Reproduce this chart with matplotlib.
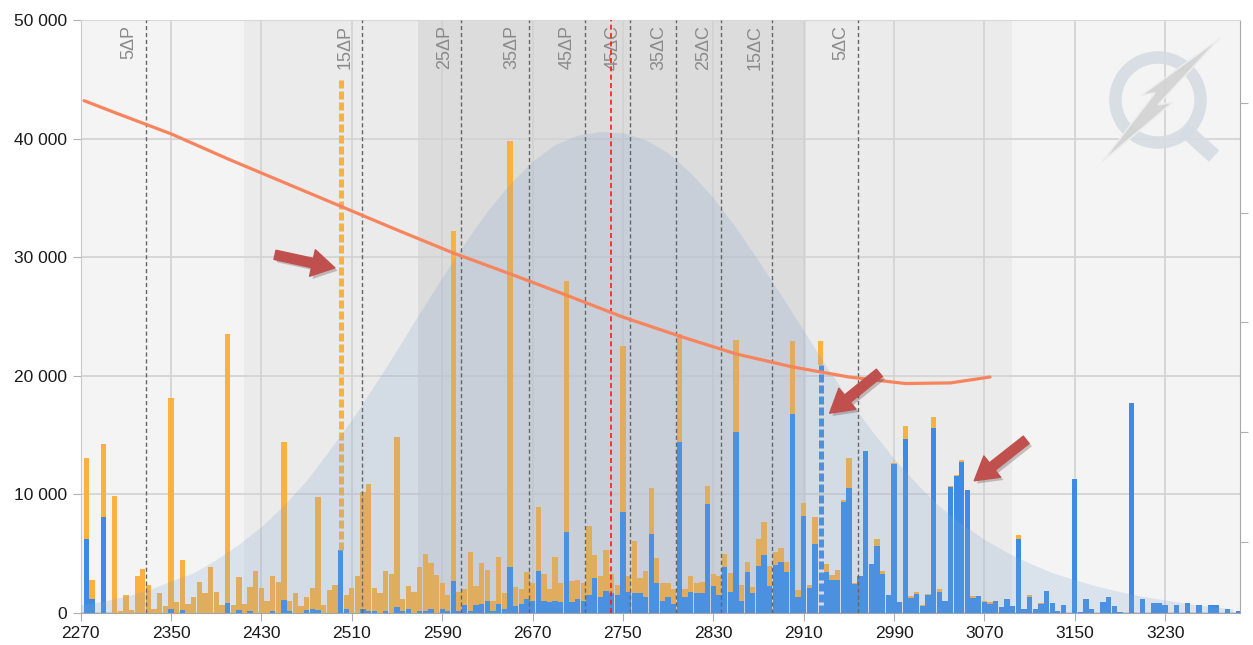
import numpy as np
import matplotlib.pyplot as plt
from matplotlib.patches import Circle, Polygon
from matplotlib.ticker import FuncFormatter
import matplotlib.patheffects as pe

plt.rcParams['font.family'] = ['Liberation Sans', 'DejaVu Sans']

# strikes, one bar every 5 points
strikes = list(range(2275, 3300, 5))

# blue part of each bar (bottom)
calls_oi = [6200, 1200, 0, 8100, 0, 0, 0, 0, 0, 0,
            0, 0, 0, 0, 0, 340, 0, 220, 0, 0,
            0, 0, 0, 0, 0, 840, 0, 220, 0, 200,
            0, 0, 0, 200, 0, 1070, 200, 0, 0, 220,
            340, 220, 0, 0, 0, 5340, 310, 0, 0, 340,
            200, 200, 0, 150, 0, 510, 200, 340, 0, 150,
            150, 340, 0, 340, 200, 2700, 200, 650, 150, 650,
            800, 1050, 150, 800, 340, 3900, 620, 800, 1200, 1050,
            3550, 1050, 930, 1050, 930, 6850, 930, 1200, 1050, 1550,
            2950, 1350, 1850, 1650, 1500, 8550, 1800, 1650, 1700, 1350,
            6700, 2550, 1050, 1350, 800, 14400, 1350, 1750, 1700, 1650,
            9150, 2250, 1500, 3900, 1750, 15300, 1050, 3450, 1700, 4000,
            4900, 2250, 4050, 4300, 3450, 16800, 1350, 8150, 2150, 5800,
            20900, 3450, 2800, 2800, 9350, 10500, 2450, 3100, 13650, 4100,
            5650, 3300, 1500, 12550, 900, 14700, 1300, 1600, 550, 1500,
            15600, 1800, 1000, 10600, 11550, 12750, 10400, 1300, 1400, 900,
            800, 1000, 500, 1150, 550, 6250, 350, 1350, 350, 750,
            1850, 850, 200, 700, 0, 11300, 100, 1150, 300, 0,
            950, 1350, 550, 100, 0, 17700, 0, 1150, 0, 850,
            850, 650, 0, 700, 0, 850, 0, 700, 0, 700,
            700, 0, 300, 0, 150]

# orange part of each bar (stacked on top)
puts_oi = [6900, 1600, 0, 6150, 0, 9900, 200, 1500, 220, 3100,
           3700, 2400, 370, 1650, 600, 17760, 930, 4230, 800, 1350,
           2650, 1700, 3900, 1800, 650, 22660, 650, 2780, 800, 2000,
           3550, 2100, 1050, 2900, 2650, 13330, 850, 1700, 600, 1130,
           1760, 9530, 650, 1900, 2400, 39660, 1190, 2100, 3100, 9860,
           10700, 1900, 1700, 3400, 3300, 14340, 1000, 1910, 1750, 3750,
           4850, 3910, 3200, 2210, 1300, 29500, 1550, 1400, 5000, 1600,
           3450, 2600, 900, 3900, 1360, 35900, 1580, 1200, 2250, 1500,
           5350, 2250, 1070, 3650, 1620, 21150, 1770, 1600, 1500, 5800,
           1900, 1750, 3500, 1600, 900, 13950, 1300, 4400, 1250, 2150,
           3850, 2050, 1500, 1200, 1250, 9100, 700, 1350, 850, 950,
           1550, 1000, 1600, 1100, 1650, 7700, 1350, 850, 500, 2200,
           2750, 1750, 1100, 1200, 850, 6100, 550, 1100, 250, 2300,
           2000, 700, 400, 850, 150, 2600, 100, 50, 50, 0,
           550, 250, 0, 100, 0, 1050, 150, 150, 150, 100,
           900, 250, 0, 100, 100, 150, 0, 100, 0, 100,
           100, 0, 0, 0, 0, 300, 0, 150, 0, 100,
           0, 0, 0, 0, 0, 0, 0, 0, 0, 0,
           0, 0, 0, 0, 0, 0, 0, 0, 0, 0,
           0, 0, 0, 0, 0, 0, 0, 0, 0, 0,
           0, 0, 0, 0, 0]

dashed_put_strike = 2500    # orange part drawn dashed
dotted_call_strike = 2925   # blue part drawn dotted

# implied volatility curve (drawn in the left axis units)
iv_x = [2273, 2300, 2350, 2400, 2450, 2500, 2550, 2600, 2650, 2700,
        2750, 2800, 2850, 2900, 2950, 3000, 3040, 3075]
iv_y = [43200, 42200, 40400, 38300, 36300, 34300, 32300, 30350, 28600, 26800,
        24950, 23350, 21850, 20750, 19900, 19350, 19400, 19900]

# price distribution
dist_x = [2270, 2290, 2310, 2330, 2350, 2370, 2390, 2410, 2430, 2450,
          2470, 2490, 2510, 2530, 2550, 2570, 2590, 2610, 2630, 2650,
          2670, 2690, 2710, 2730, 2750, 2770, 2790, 2810, 2830, 2850,
          2870, 2890, 2910, 2930, 2950, 2970, 2990, 3010, 3030, 3050,
          3070, 3090, 3110, 3130, 3150, 3170, 3190, 3210, 3230, 3250,
          3270, 3290]
dist_y = [700, 1000, 1400, 1950, 2700, 3400, 4500, 5800, 7300, 9100,
          11200, 13700, 16300, 19200, 22200, 25300, 28300, 31200, 33900, 36200,
          38100, 39500, 40300, 40600, 40500, 39900, 38800, 37100, 35000, 32500,
          29700, 26800, 23800, 20800, 18000, 15400, 13000, 10900, 9000, 7500,
          6200, 5100, 4200, 3400, 2800, 2250, 1800, 1400, 1100, 800,
          550, 350]

# shaded ranges
bands = [(2270, 2415, '#f4f4f4'), (2415, 2569, '#ebebeb'), (2569, 2912, '#dcdcdc'),
         (2912, 3094, '#ebebeb'), (3094, 3300, '#f4f4f4')]

delta_labels = ['5ΔP', '15ΔP', '25ΔP', '35ΔP', '45ΔP', '45ΔC', '35ΔC', '25ΔC', '15ΔC', '5ΔC']
delta_x = [2328, 2519, 2607, 2667, 2716, 2756.5, 2797, 2837, 2882, 2958]
spot = 2739.5

# unlabeled ticks of the right axis
right_ticks = [0.12, 0.305, 0.49, 0.675, 0.86]

blue = '#3d8be6'
orange = '#fbb040'

fig = plt.figure(figsize=(12.53, 6.45), dpi=100)
ax = fig.add_axes([80.7 / 1253, 32 / 645, 1159 / 1253, 593 / 645])
ax.set_xlim(2270, 3296)
ax.set_ylim(0, 50000)

for x0, x1, c in bands:
    ax.axvspan(x0, x1, color=c, zorder=0, lw=0)

ax.set_xticks(range(2270, 3300, 80))
ax.set_yticks(range(0, 50001, 10000))
ax.grid(True, color='#d2d2d2', lw=1.2, zorder=1)
ax.set_axisbelow(True)

calls = np.array(calls_oi, dtype=float)
puts = np.array(puts_oi, dtype=float)
sx = np.array(strikes)
i_put = strikes.index(dashed_put_strike)
i_call = strikes.index(dotted_call_strike)

blue_h = calls.copy()
blue_h[i_call] = 0
orange_h = puts.copy()
orange_h[i_put] = 0
ax.bar(sx, blue_h, width=4.7, color=blue, zorder=3, lw=0)
ax.bar(sx, orange_h, bottom=calls, width=4.7, color=orange, zorder=3, lw=0)

ax.vlines(sx[i_put], calls[i_put], calls[i_put] + puts[i_put], color=orange,
          lw=3.6, linestyles=(0, (1.6, 0.6)), zorder=3)
ax.vlines(sx[i_call], 0, calls[i_call], color=blue,
          lw=3.6, linestyles=(0, (1.6, 0.6)), zorder=3)

ax.fill_between(dist_x, dist_y, color='#82a3cc', alpha=0.22, lw=0, zorder=4)

for lab, x in zip(delta_labels, delta_x):
    ax.axvline(x, color='#666666', lw=1, ls=(0, (3, 2)), zorder=5)
    ax.annotate(lab, xy=(x, 50000), xytext=(-12.3, -3.5), textcoords='offset points',
                rotation=90, ha='center', va='top', fontsize=13, color='#8a8a8a', zorder=5)
ax.axvline(spot, color='#ff1a1a', lw=1.2, ls=(0, (3, 2)), zorder=5)

ax.plot(iv_x, iv_y, color='#f7845c', lw=2.3, zorder=6, solid_capstyle='round')

# arrows
arrows = [((2442, 30200), (2495, 29100)),
          ((2977, 20250), (2933, 16850)),
          ((3107, 14600), (3061, 11150))]
for tail, head in arrows:
    ax.annotate('', xy=head, xytext=tail,
                arrowprops=dict(arrowstyle='simple,head_width=1.3,head_length=1.1,tail_width=0.45',
                                color='#c0504d', mutation_scale=15, shrinkA=0, shrinkB=0,
                                path_effects=[pe.withSimplePatchShadow(offset=(2, -2), alpha=0.25)]),
                zorder=8)

ax.yaxis.set_major_formatter(FuncFormatter(lambda v, p: f'{int(v):,}'.replace(',', ' ')))
ax.tick_params(axis='both', labelsize=12.5, colors='#b0b0b0', labelcolor='#1a1a1a', length=6)
ax.tick_params(axis='y', pad=4)
for side, c in [('left', '#c8c8c8'), ('bottom', '#a8a8a8'), ('top', '#d8d8d8'), ('right', '#a8a8a8')]:
    ax.spines[side].set_color(c)

ax2 = ax.twinx()
ax2.set_ylim(0, 1)
ax2.set_yticks(right_ticks)
ax2.tick_params(axis='y', length=6, colors='#b0b0b0', labelright=False)
for s in ax2.spines.values():
    s.set_visible(False)

# watermark logo
lax = fig.add_axes([1088 / 1253, (645 - 165) / 645, 140 / 1253, 130 / 645])
lax.set_xlim(-1.1, 1.1)
lax.set_ylim(-1.1, 1.1)
lax.set_aspect('equal')
lax.axis('off')
lax.add_patch(Circle((0, 0), 0.72, fill=False, lw=9, ec='#d6dce3', alpha=0.9))
lax.plot([0.45, 0.95], [-0.5, -0.95], color='#d6dce3', lw=11, solid_capstyle='butt', alpha=0.9)
lax.add_patch(Polygon([(1.05, 1.05), (0.0, -0.08), (0.25, -0.04), (-0.95, -1.05),
                       (-0.05, 0.12), (-0.28, 0.08)], closed=True,
                      fc='#d2d2d2', ec='#eeeeee', lw=1.2, alpha=0.9))

fig.savefig('out.png', dpi=100)
